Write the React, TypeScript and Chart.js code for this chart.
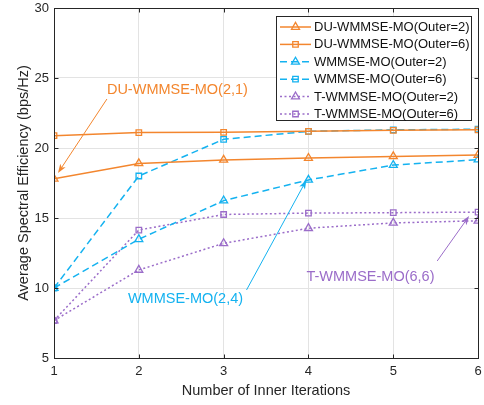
import React, { useEffect, useRef } from 'react';
import { Chart, registerables } from 'chart.js';

Chart.register(...registerables);

// ---- data ----
const iterations = [1, 2, 3, 4, 5, 6];
const duOuter2 = [17.8, 18.9, 19.15, 19.28, 19.4, 19.5];
const duOuter6 = [20.88, 21.1, 21.12, 21.19, 21.26, 21.3];
const wmmseOuter2 = [10.0, 13.48, 16.24, 17.72, 18.78, 19.17];
const wmmseOuter6 = [10.0, 18.0, 20.62, 21.19, 21.3, 21.34];
const tOuter2 = [7.67, 11.29, 13.19, 14.27, 14.65, 14.8];
const tOuter6 = [7.67, 14.14, 15.25, 15.35, 15.38, 15.42];
const seriesLabels = [
  'DU-WMMSE-MO(Outer=2)',
  'DU-WMMSE-MO(Outer=6)',
  'WMMSE-MO(Outer=2)',
  'WMMSE-MO(Outer=6)',
  'T-WMMSE-MO(Outer=2)',
  'T-WMMSE-MO(Outer=6)',
];
const xTickValues = [1, 2, 3, 4, 5, 6];
const yTickValues = [5, 10, 15, 20, 25, 30];
const xTitle = 'Number of Inner Iterations';
const yTitle = 'Average Spectral Efficiency (bps/Hz)';

// annotations in data coordinates: text anchor, arrow tail, arrow tip
const annTexts = ['DU-WMMSE-MO(2,1)', 'WMMSE-MO(2,4)', 'T-WMMSE-MO(6,6)'];
const annTextPos = [[1.624, 24.14], [1.871, 9.21], [3.976, 10.79]];
const annTail = [[1.624, 23.5], [3.27, 9.86], [5.518, 11.93]];
const annTip = [[1.047, 18.21], [3.976, 17.71], [5.894, 15.14]];

// ---- styles ----
const ORANGE = '#F3862E';
const BLUE = '#14B2F0';
const PURPLE = '#9B6DC9';
const AXIS = '#262626';
const GRID = '#E3E3E3';
const FONT = '"Liberation Sans", Arial, Helvetica, sans-serif';

const seriesData = [duOuter2, duOuter6, wmmseOuter2, wmmseOuter6, tOuter2, tOuter6];
const seriesColors = [ORANGE, ORANGE, BLUE, BLUE, PURPLE, PURPLE];
const seriesDash = [[], [], [7, 4], [7, 4], [2, 2.5], [2, 2.5]];
const seriesMarker = ['triangle', 'rect', 'triangle', 'rect', 'triangle', 'rect'];
const annColors = [ORANGE, BLUE, PURPLE];

function drawMarker(ctx: CanvasRenderingContext2D, style: string, x: number, y: number, r: number) {
  ctx.beginPath();
  if (style === 'triangle') {
    let rad = 0;
    ctx.moveTo(x + Math.sin(rad) * r, y - Math.cos(rad) * r);
    rad += (2 * Math.PI) / 3;
    ctx.lineTo(x + Math.sin(rad) * r, y - Math.cos(rad) * r);
    rad += (2 * Math.PI) / 3;
    ctx.lineTo(x + Math.sin(rad) * r, y - Math.cos(rad) * r);
    ctx.closePath();
  } else {
    const s = Math.SQRT1_2 * r;
    ctx.rect(x - s, y - s, 2 * s, 2 * s);
  }
  ctx.stroke();
}

function drawArrow(ctx: CanvasRenderingContext2D, x0: number, y0: number, x1: number, y1: number, color: string) {
  const ang = Math.atan2(y1 - y0, x1 - x0);
  const len = 9;
  const hw = 3.2;
  const c = Math.cos(ang);
  const s = Math.sin(ang);
  ctx.strokeStyle = color;
  ctx.fillStyle = color;
  ctx.lineWidth = 1;
  ctx.setLineDash([]);
  ctx.beginPath();
  ctx.moveTo(x0, y0);
  ctx.lineTo(x1 - c * len * 0.7, y1 - s * len * 0.7);
  ctx.stroke();
  ctx.beginPath();
  ctx.moveTo(x1, y1);
  ctx.lineTo(x1 - len * c + hw * s, y1 - len * s - hw * c);
  ctx.lineTo(x1 - len * c * 0.75, y1 - len * s * 0.75);
  ctx.lineTo(x1 - len * c - hw * s, y1 - len * s + hw * c);
  ctx.closePath();
  ctx.fill();
}

const overlayPlugin = {
  id: 'overlay',
  afterDatasetsDraw(chart: any) {
    const { ctx, chartArea: a, scales } = chart;
    const xs = scales.x;
    const ys = scales.y;
    ctx.save();
    // box
    const L = Math.round(a.left) + 0.5;
    const T = Math.round(a.top) + 0.5;
    const R = Math.round(a.right) + 0.5;
    const B = Math.round(a.bottom) + 0.5;
    ctx.strokeStyle = AXIS;
    ctx.lineWidth = 1;
    ctx.setLineDash([]);
    ctx.beginPath();
    ctx.moveTo(L, T);
    ctx.lineTo(R, T);
    ctx.lineTo(R, B);
    ctx.lineTo(L, B);
    ctx.closePath();
    ctx.stroke();
    // inward ticks
    const tl = 4;
    ctx.beginPath();
    for (const v of xTickValues) {
      const px = Math.round(xs.getPixelForValue(v)) + 0.5;
      ctx.moveTo(px, B);
      ctx.lineTo(px, B - tl);
      ctx.moveTo(px, T);
      ctx.lineTo(px, T + tl);
    }
    for (const v of yTickValues) {
      const py = Math.round(ys.getPixelForValue(v)) + 0.5;
      ctx.moveTo(L, py);
      ctx.lineTo(L + tl, py);
      ctx.moveTo(R, py);
      ctx.lineTo(R - tl, py);
    }
    ctx.stroke();

    // annotations
    ctx.font = '14.5px ' + FONT;
    ctx.textBaseline = 'middle';
    ctx.textAlign = 'left';
    for (let i = 0; i < annTexts.length; i++) {
      const col = annColors[i];
      ctx.fillStyle = col;
      ctx.fillText(annTexts[i], xs.getPixelForValue(annTextPos[i][0]), ys.getPixelForValue(annTextPos[i][1]));
      drawArrow(
        ctx,
        xs.getPixelForValue(annTail[i][0]),
        ys.getPixelForValue(annTail[i][1]),
        xs.getPixelForValue(annTip[i][0]),
        ys.getPixelForValue(annTip[i][1]),
        col
      );
    }

    // legend
    const bx = 276.5, by = 16.5, bw = 195, bh = 104;
    ctx.fillStyle = '#FFFFFF';
    ctx.fillRect(bx, by, bw, bh);
    ctx.strokeStyle = AXIS;
    ctx.lineWidth = 1;
    ctx.setLineDash([]);
    ctx.strokeRect(bx, by, bw, bh);
    ctx.font = '13px ' + FONT;
    ctx.textBaseline = 'middle';
    ctx.textAlign = 'left';
    chart.data.datasets.forEach((ds: any, i: number) => {
      const ry = 27 + i * 17.4;
      ctx.strokeStyle = seriesColors[i];
      ctx.lineWidth = 1.5;
      ctx.setLineDash(seriesDash[i]);
      ctx.beginPath();
      ctx.moveTo(280, ry);
      ctx.lineTo(311, ry);
      ctx.stroke();
      ctx.setLineDash([]);
      ctx.lineWidth = 1.3;
      drawMarker(ctx, seriesMarker[i], 295.5, ry, seriesMarker[i] === 'triangle' ? 4.6 : 3.9);
      ctx.fillStyle = '#111111';
      ctx.fillText(ds.label, 314, ry + 0.5);
    });
    ctx.restore();
  },
};

export default function App() {
  const ref = useRef<HTMLCanvasElement | null>(null);
  useEffect(() => {
    document.body.style.margin = '0';
    const canvas = ref.current;
    if (!canvas) return;
    const chart = new Chart(canvas, {
      type: 'line',
      data: {
        datasets: seriesData.map((vals, i) => ({
          label: seriesLabels[i],
          data: iterations.map((x, j) => ({ x, y: vals[j] })),
          borderColor: seriesColors[i],
          backgroundColor: 'rgba(0,0,0,0)',
          borderWidth: 1.5,
          borderDash: seriesDash[i],
          pointStyle: seriesMarker[i] as any,
          pointRadius: seriesMarker[i] === 'triangle' ? 4.6 : 3.9,
          pointBorderWidth: 1.3,
          pointBorderColor: seriesColors[i],
          pointBackgroundColor: 'rgba(0,0,0,0)',
          tension: 0,
          fill: false,
        })),
      },
      options: {
        animation: false,
        responsive: false,
        devicePixelRatio: 1,
        layout: { padding: { left: 0, right: 5, top: 8, bottom: 0 } },
        plugins: {
          legend: { display: false },
          tooltip: { enabled: false },
        },
        scales: {
          x: {
            type: 'linear',
            min: 1,
            max: 6,
            afterFit: (s: any) => {
              s.height = 47;
              s.paddingLeft = 0;
              s.paddingRight = 0;
            },
            afterBuildTicks: (s: any) => { s.ticks = xTickValues.map((v) => ({ value: v })); },
            ticks: {
              color: AXIS,
              font: { family: FONT, size: 13 },
              padding: 6,
              maxRotation: 0,
              callback: (v: any) => String(v),
            },
            grid: { color: GRID, lineWidth: 1, drawTicks: false },
            border: { display: true, color: AXIS, width: 1 },
            title: {
              display: true,
              text: xTitle,
              color: AXIS,
              font: { family: FONT, size: 14.5 },
              padding: { top: 0, bottom: 5.3 },
            },
          },
          y: {
            type: 'linear',
            min: 5,
            max: 30,
            afterFit: (s: any) => {
              s.width = 54;
              s.paddingTop = 0;
              s.paddingBottom = 0;
            },
            afterBuildTicks: (s: any) => { s.ticks = yTickValues.map((v) => ({ value: v })); },
            ticks: {
              color: AXIS,
              font: { family: FONT, size: 13 },
              padding: 5,
              callback: (v: any) => String(v),
            },
            grid: { color: GRID, lineWidth: 1, drawTicks: false },
            border: { display: true, color: AXIS, width: 1 },
            title: {
              display: true,
              text: yTitle,
              color: AXIS,
              font: { family: FONT, size: 14.5 },
              padding: { top: 15, bottom: 0 },
            },
          },
        },
      },
      plugins: [overlayPlugin],
    });
    return () => chart.destroy();
  }, []);
  return (
    <div style={{ width: 484, height: 405 }}>
      <canvas ref={ref} width={484} height={405} style={{ display: 'block' }} />
    </div>
  );
}
